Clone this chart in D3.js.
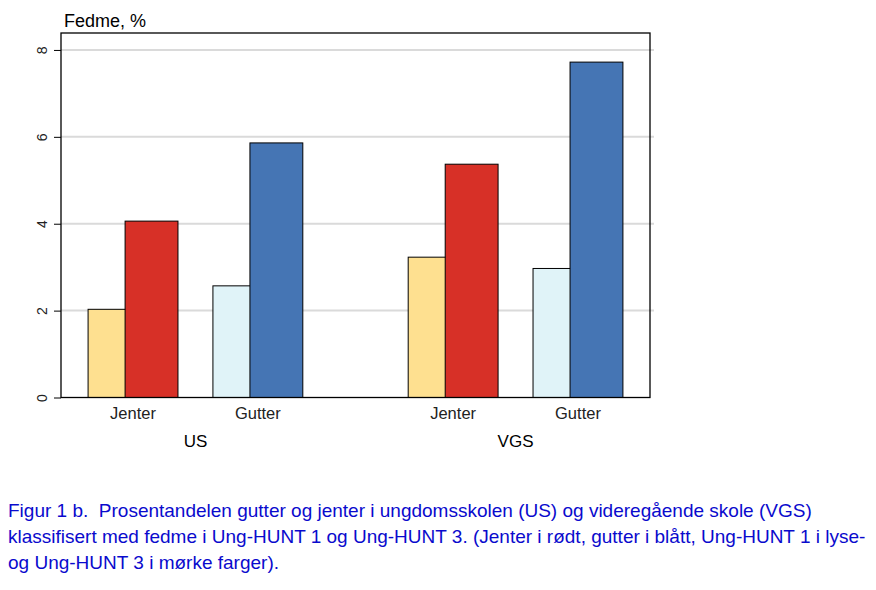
<!DOCTYPE html>
<html>
<head>
<meta charset="utf-8">
<script src="https://cdn.jsdelivr.net/npm/d3@7"></script>
<style>
  body { margin: 0; background: #fff; }
  svg { font-family: "Liberation Sans", Arial, sans-serif; }
</style>
</head>
<body>
<div id="root"></div>
<script>
// school level and sex, in drawing order
var groups = ["US", "VGS"];
var sexes = ["Jenter", "Gutter"];

// obesity in %, order: US Jenter, US Gutter, VGS Jenter, VGS Gutter
var hunt1 = [2.03, 2.57, 3.23, 2.97];
var hunt3 = [4.06, 5.86, 5.37, 7.72];

var yTicks = [0, 2, 4, 6, 8];

var caption = [
    "Figur 1 b.  Prosentandelen gutter og jenter i ungdomsskolen (US) og videregående skole (VGS)",
    "klassifisert med fedme i Ung-HUNT 1 og Ung-HUNT 3. (Jenter i rødt, gutter i blått, Ung-HUNT 1 i lyse-",
    "og Ung-HUNT 3 i mørke farger)."
];

// light = Ung-HUNT 1, dark = Ung-HUNT 3
var colors = {
    Jenter: ["#fee090", "#d73027"],
    Gutter: ["#e0f3f8", "#4575b4"]
};

var data = [];
groups.forEach(function (g, gi) {
    sexes.forEach(function (s, si) {
        var i = gi * sexes.length + si;
        data.push({ group: g, sex: s, h1: hunt1[i], h3: hunt3[i] });
    });
});

var W = 876, H = 590;
var plot = { left: 61, right: 650, top: 33, bottom: 397.5 };

var svg = d3.select("#root").append("svg")
    .attr("width", W)
    .attr("height", H);

var y = d3.scaleLinear()
    .domain([0, 8.39])
    .range([plot.bottom, plot.top]);

var x0 = d3.scaleBand()
    .domain(groups)
    .range([plot.left, plot.right])
    .paddingInner(0.22)
    .paddingOuter(0.03);

var x1 = d3.scaleBand()
    .domain(sexes)
    .range([0, x0.bandwidth()])
    .paddingInner(0.28)
    .paddingOuter(0.14);

// bars overlap a bit (negative bar gap)
var overlap = 0.3;
var barW = x1.bandwidth() / (2 - overlap);

//gridlines
svg.append("g")
    .selectAll("line")
    .data(yTicks.filter(function (d) { return d > 0; }))
    .enter()
    .append("line")
    .attr("x1", plot.left)
    .attr("x2", plot.right + 4)
    .attr("y1", function (d) { return y(d); })
    .attr("y2", function (d) { return y(d); })
    .attr("stroke", "#dadada")
    .attr("stroke-width", 2);

//y axis with rotated labels
var yAxis = d3.axisLeft(y)
    .tickValues(yTicks)
    .tickSize(7)
    .tickPadding(7);

var gy = svg.append("g")
    .attr("transform", "translate(" + plot.left + ",0)")
    .call(yAxis);
gy.select(".domain").remove();
gy.selectAll(".tick line").attr("stroke", "#000");
gy.selectAll(".tick text")
    .attr("x", null)
    .attr("dy", null)
    .attr("transform", "translate(-14,0) rotate(-90)")
    .attr("text-anchor", "middle")
    .attr("font-size", 14)
    .attr("fill", "#222");

var clusters = svg.selectAll(".cluster")
    .data(data)
    .enter()
    .append("g")
    .attr("transform", function (d) {
        return "translate(" + (x0(d.group) + x1(d.sex)) + ",0)";
    });

clusters.append("rect")
    .attr("x", 0)
    .attr("y", function (d) { return y(d.h1); })
    .attr("width", barW)
    .attr("height", function (d) { return y(0) - y(d.h1); })
    .attr("fill", function (d) { return colors[d.sex][0]; })
    .attr("stroke", "#000")
    .attr("stroke-width", 1);

clusters.append("rect")
    .attr("x", barW * (1 - overlap))
    .attr("y", function (d) { return y(d.h3); })
    .attr("width", barW)
    .attr("height", function (d) { return y(0) - y(d.h3); })
    .attr("fill", function (d) { return colors[d.sex][1]; })
    .attr("stroke", "#000")
    .attr("stroke-width", 1);

//sex labels under each cluster
clusters.append("text")
    .attr("x", x1.bandwidth() / 2)
    .attr("y", 419)
    .attr("text-anchor", "middle")
    .attr("font-size", 16.5)
    .attr("fill", "#222")
    .text(function (d) { return d.sex; });

//group labels
svg.selectAll(".group")
    .data(groups)
    .enter()
    .append("text")
    .attr("x", function (d) { return x0(d) + x0.bandwidth() / 2; })
    .attr("y", 447)
    .attr("text-anchor", "middle")
    .attr("font-size", 17)
    .attr("fill", "#000")
    .text(function (d) { return d; });

//frame
svg.append("rect")
    .attr("x", plot.left)
    .attr("y", plot.top)
    .attr("width", plot.right - plot.left)
    .attr("height", plot.bottom - plot.top)
    .attr("fill", "none")
    .attr("stroke", "#000")
    .attr("stroke-width", 1.3);

//axis title
svg.append("text")
    .attr("x", 64)
    .attr("y", 27)
    .attr("font-size", 18)
    .attr("fill", "#000")
    .text("Fedme, %");

//caption
svg.append("g")
    .selectAll("text")
    .data(caption)
    .enter()
    .append("text")
    .attr("x", 8)
    .attr("y", function (d, i) { return 517 + i * 26; })
    .attr("font-size", 19)
    .attr("fill", "#0a0acd")
    .style("white-space", "pre")
    .text(function (d) { return d; });
</script>
</body>
</html>
